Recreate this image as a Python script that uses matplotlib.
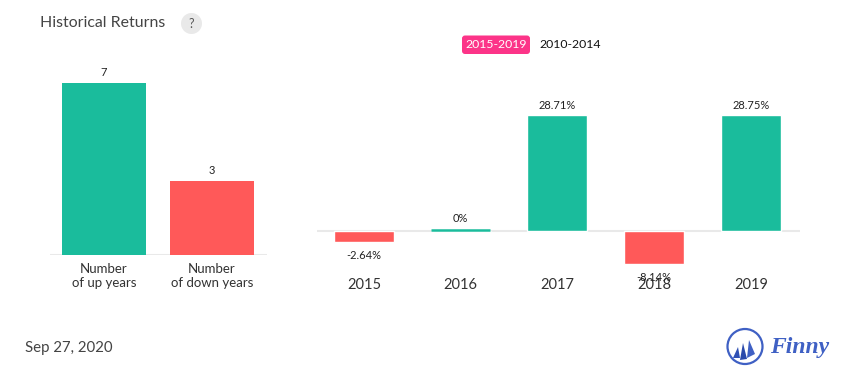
import matplotlib
matplotlib.use("Agg")
import matplotlib.pyplot as plt
from matplotlib.patches import Circle, FancyBboxPatch, Polygon

plt.rcParams['font.family'] = ['Lato', 'DejaVu Sans']

W, H = 855, 382
GREEN = '#1abc9c'
RED = '#ff5959'
LINE = '#e9e9e9'

count_labels = ['Number\nof up years', 'Number\nof down years']
count_values = [7, 3]

years = ['2015', '2016', '2017', '2018', '2019']
returns = [-2.64, 0, 28.71, -8.14, 28.75]
return_labels = ['-2.64%', '0%', '28.71%', '-8.14%', '28.75%']


def px_axes(x0, y0, x1, y1):
    # pixel box with y measured from the top of the image
    ax = fig.add_axes([x0 / W, 1 - y1 / H, (x1 - x0) / W, (y1 - y0) / H])
    ax.axis('off')
    return ax


fig = plt.figure(figsize=(W / 100, H / 100), dpi=100)

# left chart: up and down years
ax1 = px_axes(50, 60, 267, 255)
colors1 = [GREEN, RED]
ax1.bar(range(2), count_values, width=0.778, color=colors1, zorder=3)
ax1.set_xlim(-0.5, 1.509)
ax1.set_ylim(0, 195 / 24.55)
ax1.axhline(0, color=LINE, lw=1.5, zorder=1)
for i, v in enumerate(count_values):
    ax1.annotate(str(v), (i, v), xytext=(0, 5), textcoords='offset pixels',
                 ha='center', va='bottom', fontsize=8, color='#222222')
    ax1.annotate(count_labels[i], (i, 0), xytext=(0, -8), textcoords='offset pixels',
                 ha='center', va='top', fontsize=9.5, color='#333333',
                 linespacing=1.2, annotation_clip=False)

# right chart: yearly returns
ax2 = px_axes(317, 91, 800, 300)
colors2 = [GREEN if r >= 0 else RED for r in returns]
ax2.set_xlim(-0.485, 4.507)
ax2.set_ylim(-69 / 4.03, 140 / 4.03)
ax2.axhline(0, color=LINE, lw=1.5, zorder=1)
# white outline breaks the baseline around each bar
ax2.bar(range(5), returns, width=0.62, color=colors2, edgecolor='white', lw=1, zorder=3)
for i, r in enumerate(returns):
    # zero return still shows as a thin sliver on the baseline
    if r == 0:
        ax2.plot([i - 0.305, i + 0.305], [0.35, 0.35], color=GREEN, lw=1.8,
                 solid_capstyle='butt', zorder=4)
    y_off = 4 if r > 0 else (7 if r == 0 else -8)
    ax2.annotate(return_labels[i], (i, r), xytext=(0, y_off), textcoords='offset pixels',
                 ha='center', va='bottom' if r >= 0 else 'top', fontsize=8,
                 color='#222222', zorder=6, annotation_clip=False)
    ax2.text(i, -54 / 4.03, years[i], ha='center', va='center', fontsize=10.5,
             color='#333333', zorder=5)

# full-figure overlay in pixel coordinates for header, toggle and logo
ov = fig.add_axes([0, 0, 1, 1], zorder=-1)
ov.set_xlim(0, W)
ov.set_ylim(H, 0)
ov.axis('off')

ov.text(40, 23, 'Historical Returns', fontsize=11.4, color='#444444', va='center')
ov.add_patch(Circle((191.5, 23.5), 10.5, color='#e9e9e9', lw=0))
ov.text(191.5, 23.5, '?', fontsize=9, color='#555555', ha='center', va='center')

ov.add_patch(FancyBboxPatch((462, 35.5), 68, 18.5, boxstyle='round,pad=0,rounding_size=3',
                            fc='#fc3488', ec='none'))
ov.text(496, 44.5, '2015-2019', fontsize=8.8, color='white', ha='center', va='center')
ov.text(570, 44.5, '2010-2014', fontsize=8.8, color='#111111', ha='center', va='center')

ov.text(25, 348, 'Sep 27, 2020', fontsize=10.8, color='#444444', va='center')

# Finny logo
BLUE = '#3f60c4'
ov.add_patch(Circle((745, 346.5), 17.5, fc='none', ec=BLUE, lw=1.6))
ov.add_patch(Polygon([(733, 358), (738, 347), (740, 358)], fc='#2f50b4', lw=0))
ov.add_patch(Polygon([(740, 360), (743, 343), (747, 359)], fc='#2a49ab', lw=0))
ov.add_patch(Polygon([(747, 358), (749, 340), (752, 347), (755, 354)], fc=BLUE, lw=0))
ov.text(799.5, 348, 'Finny', fontsize=17, color=BLUE, style='italic', weight='bold',
        family='Liberation Serif', ha='center', va='center')

fig.savefig('out.png', dpi=100)
